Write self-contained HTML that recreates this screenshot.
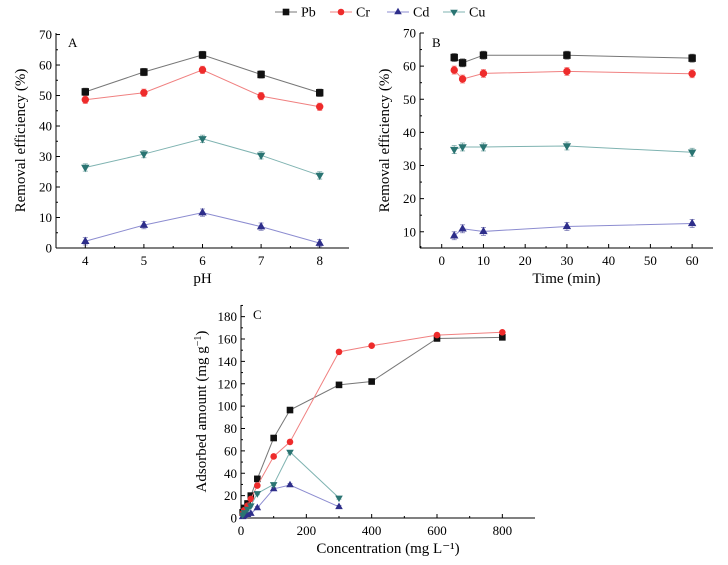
<!DOCTYPE html>
<html><head><meta charset="utf-8"><style>
body{margin:0;background:#fff}
svg{display:block;font-family:"Liberation Serif",serif}
</style></head><body>
<svg id="c" width="728" height="565"></svg>
<script>
const phCats=[4,5,6,7,8];
const aPb=[51.2,57.7,63.3,56.9,50.9];
const aCr=[48.6,50.9,58.4,49.8,46.3];
const aCd=[2.2,7.5,11.6,7.0,1.6];
const aCu=[26.4,30.8,35.8,30.4,23.8];
const bTime=[3,5,10,30,60];
const bPb=[62.6,61.0,63.3,63.3,62.4];
const bCr=[58.8,56.1,57.8,58.4,57.7];
const bCd=[8.8,10.9,10.1,11.6,12.5];
const bCu=[34.8,35.6,35.6,35.9,34.0];
const cConcPbCr=[5,10,20,30,50,100,150,300,400,600,800];
const cPb=[5,9,13,20,35,71.5,96.5,119,122,160.5,161.5];
const cCr=[4,7,11,17,29,55,68,148.5,154,163.5,166];
const cConcCdCu=[5,10,20,30,50,100,150,300];
const cCd=[1,2,3,4,9,26,29.5,10];
const cCu=[3,5,8,11,22,30,59,18];
const aXTicks=[4,5,6,7,8];
const aYTicks=[0,10,20,30,40,50,60,70];
const bXTicks=[0,10,20,30,40,50,60];
const bYTicks=[10,20,30,40,50,60,70];
const cXTicks=[0,200,400,600,800];
const cYTicks=[0,20,40,60,80,100,120,140,160,180];

const NS="http://www.w3.org/2000/svg";
const svg=document.getElementById('c');
function mk(tag,attrs,parent,txt){const e=document.createElementNS(NS,tag);for(const k in attrs)e.setAttribute(k,attrs[k]);if(txt!==undefined)e.textContent=txt;(parent||svg).appendChild(e);return e;}
const ST={Pb:{c:'#111',l:'#777',m:'sq'},Cr:{c:'#ee2b2b',l:'#f08080',m:'ci'},Cd:{c:'#2e2e8a',l:'#8c8cd0',m:'tu'},Cu:{c:'#2a7472',l:'#7fb3b1',m:'td'}};
function marker(g,m,x,y,col,s){
 s=s||4;
 if(m==='sq')return mk('rect',{x:x-s,y:y-s,width:2*s,height:2*s,fill:col},g);
 if(m==='ci')return mk('circle',{cx:x,cy:y,r:s,fill:col},g);
 if(m==='tu')return mk('polygon',{points:`${x},${y-s-1} ${x-s-0.5},${y+s-1} ${x+s+0.5},${y+s-1}`,fill:col},g);
 return mk('polygon',{points:`${x},${y+s+1} ${x-s-0.5},${y-s+1} ${x+s+0.5},${y-s+1}`,fill:col},g);
}
function panel(o){
 const g=mk('g',{},svg);
 const X=v=>o.x0+(v-o.xmin)/(o.xmax-o.xmin)*(o.x1-o.x0);
 const Y=v=>o.y0-(v-o.ymin)/(o.ymax-o.ymin)*(o.y0-o.y1);
 const ax=mk('g',{stroke:'#000','stroke-width':1,fill:'none'},g);
 
 mk('line',{x1:o.x0,y1:o.y0,x2:o.x1,y2:o.y0},ax);
 mk('line',{x1:o.x0,y1:o.y0,x2:o.x0,y2:o.y1},ax);
 o.xt.forEach((t,i)=>{const x=X(t);mk('line',{x1:x,y1:o.y0,x2:x,y2:o.y0-4},ax);
  const xm=X(t+(o.xt[1]-o.xt[0])/2);if(xm<o.x1)mk('line',{x1:xm,y1:o.y0,x2:xm,y2:o.y0-2},ax);
  const tl=mk('text',{x:x,y:o.y0+17,'text-anchor':'middle','font-size':13,fill:'#000'},g,String(t));});
 const xf=X(o.xt[0]-(o.xt[1]-o.xt[0])/2);if(xf>o.x0)mk('line',{x1:xf,y1:o.y0,x2:xf,y2:o.y0-2},ax);
 o.yt.forEach((t,i)=>{const y=Y(t);mk('line',{x1:o.x0,y1:y,x2:o.x0+4,y2:y},ax);
  const ym=Y(t+(o.yt[1]-o.yt[0])/2);if(ym>o.y1)mk('line',{x1:o.x0,y1:ym,x2:o.x0+2,y2:ym},ax);
  const tl=mk('text',{x:o.x0-4,y:y+4.5,'text-anchor':'end','font-size':13,fill:'#000'},g,String(t));});
 const xl=mk('text',{x:(o.x0+o.x1)/2,y:o.y0+35,'text-anchor':'middle','font-size':15,fill:'#000'},g,o.xlabel);
 
 const yl=mk('text',{x:0,y:0,'text-anchor':'middle','font-size':15,fill:'#000',transform:`translate(${o.ylx},${(o.y0+o.y1)/2}) rotate(-90)`},g);
 yl.innerHTML=o.ylabel;
 const pl=mk('text',{x:o.x0+12,y:o.y1+14,'font-size':13,fill:'#000'},g,o.letter);
 
 o.series.forEach(s=>{const st=ST[s.k];
  const sg=mk('g',{},g);
  mk('polyline',{points:s.x.map((v,i)=>X(v)+','+Y(s.y[i])).join(' '),fill:'none',stroke:st.l,'stroke-width':1},sg);
  s.x.forEach((v,i)=>{const px=X(v),py=Y(s.y[i]);
   const e=s.err||1.2;const ey=(py-Y(s.y[i]+e));
   mk('line',{x1:px,y1:py-ey,x2:px,y2:py+ey,stroke:st.c,'stroke-width':0.8,opacity:0.6},sg);
   mk('line',{x1:px-2.5,y1:py-ey,x2:px+2.5,y2:py-ey,stroke:st.c,'stroke-width':0.8,opacity:0.6},sg);
   mk('line',{x1:px-2.5,y1:py+ey,x2:px+2.5,y2:py+ey,stroke:st.c,'stroke-width':0.8,opacity:0.6},sg);
   const m=marker(sg,st.m,px,py,st.c,o.ms);});
 });
}
panel({name:'panel-a',x0:56,x1:349,y0:248,y1:33,xmin:3.5,xmax:8.5,ymin:0,ymax:70.5,xt:aXTicks,yt:aYTicks,xlabel:'pH',ylabel:'Removal efficiency (%)',ylx:25,letter:'A',ms:3.7,
 series:[{k:'Pb',x:phCats,y:aPb},{k:'Cr',x:phCats,y:aCr},{k:'Cd',x:phCats,y:aCd},{k:'Cu',x:phCats,y:aCu}]});
panel({name:'panel-b',x0:420,x1:713,y0:248,y1:33,xmin:-5.2,xmax:65,ymin:5.1,ymax:70,xt:bXTicks,yt:bYTicks,xlabel:'Time (min)',ylabel:'Removal efficiency (%)',ylx:389,letter:'B',ms:3.7,
 series:[{k:'Pb',x:bTime,y:bPb},{k:'Cr',x:bTime,y:bCr},{k:'Cd',x:bTime,y:bCd},{k:'Cu',x:bTime,y:bCu}]});
panel({name:'panel-c',x0:241,x1:535,y0:518,y1:305,xmin:0,xmax:900,ymin:0,ymax:190.4,xt:cXTicks,yt:cYTicks,xlabel:'Concentration (mg L⁻¹)',ylabel:'Adsorbed amount (mg g<tspan dy="-5" font-size="10">−1</tspan><tspan dy="5">)</tspan>',ylx:206,letter:'C',ms:3.3,err:3,
 series:[{k:'Pb',x:cConcPbCr,y:cPb},{k:'Cr',x:cConcPbCr,y:cCr},{k:'Cd',x:cConcCdCu,y:cCd},{k:'Cu',x:cConcCdCu,y:cCu}]});
const lg=mk('g',{},svg);
[['Pb',275],['Cr',330],['Cd',387],['Cu',443]].forEach(([k,x])=>{const st=ST[k];
 const e=mk('g',{},lg);
 mk('line',{x1:x,y1:12,x2:x+22,y2:12,stroke:st.l,'stroke-width':1},e);
 marker(e,st.m,x+11,12,st.c,3.3);
 mk('text',{x:x+26,y:16.5,'font-size':14,fill:'#000'},e,k);});
</script>
</body></html>
